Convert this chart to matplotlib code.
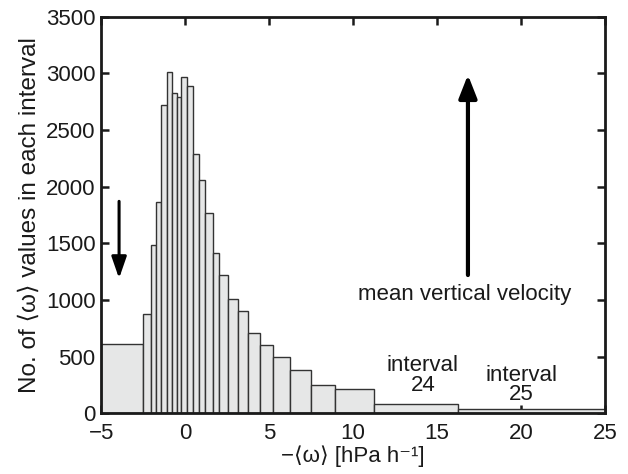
import numpy as np
import matplotlib
matplotlib.use("Agg")
import matplotlib.pyplot as plt

plt.rcParams["font.family"] = ["Liberation Sans", "DejaVu Sans"]

# interval edges of -<omega> [hPa/h] (25 intervals)
edges = [-5.0, -2.48, -2.04, -1.73, -1.41, -1.09, -0.77, -0.49, -0.22, 0.10,
         0.46, 0.82, 1.21, 1.65, 2.05, 2.58, 3.13, 3.75, 4.48, 5.26,
         6.24, 7.50, 8.94, 11.28, 16.27, 25.0]
# number of values in each interval
counts = [610, 874, 1483, 1862, 2721, 3010, 2824, 2789, 2968, 2891,
          2286, 2059, 1765, 1412, 1223, 1006, 900, 706, 600, 494,
          385, 252, 212, 82, 35]

xticks = [-5, 0, 5, 10, 15, 20, 25]
yticks = list(range(0, 3501, 500))

FS = 16
INK = "#1a1a1a"
fig = plt.figure(figsize=(6.28, 4.74), dpi=100)
ax = fig.add_axes([0.161, 0.128, 0.802, 0.837])

left = np.array(edges[:-1])
widths = np.diff(edges)
ax.bar(left, counts, width=widths, align="edge", color="#e6e7e7",
       edgecolor="#333333", linewidth=1.0, zorder=2)

ax.set_xlim(-5, 25)
ax.set_ylim(0, 3500)
ax.set_xticks(xticks)
ax.set_yticks(yticks)
ax.set_xticklabels([str(t).replace("-", "\u2212") for t in xticks])
ax.tick_params(direction="in", length=6, width=1.8, top=True, right=True,
               labelsize=FS, colors=INK)
ax.tick_params(axis="x", pad=7)
ax.tick_params(axis="y", pad=4)
for s in ax.spines.values():
    s.set_linewidth(2.0)
    s.set_color(INK)
    s.set_zorder(5)

ax.set_xlabel("\u2212\u27e8\u03c9\u27e9 [hPa h\u207b\u00b9]", fontsize=FS,
              labelpad=1, color=INK)
ax.set_ylabel("No. of \u27e8\u03c9\u27e9 values in each interval", fontsize=17.5,
              labelpad=4, color=INK)

# arrows
ax.annotate("", xy=(-3.93, 1190), xytext=(-3.93, 1870),
            arrowprops=dict(arrowstyle="-|>,head_length=1.3,head_width=0.45",
                            lw=2.2, color="black", shrinkA=0, shrinkB=0),
            zorder=6)
ax.annotate("", xy=(16.85, 2986), xytext=(16.85, 1220),
            arrowprops=dict(arrowstyle="-|>,head_length=1.4,head_width=0.55",
                            lw=3.0, color="black", shrinkA=0, shrinkB=0),
            zorder=6)

ax.text(16.65, 1000, "mean vertical velocity", fontsize=FS, ha="center",
        va="baseline", color=INK)
ax.text(14.17, 199, "interval\n24", fontsize=FS, ha="center", va="baseline",
        multialignment="center", linespacing=0.95, color=INK)
ax.text(20.04, 117, "interval\n25", fontsize=FS, ha="center", va="baseline",
        multialignment="center", linespacing=0.88, color=INK)

fig.savefig("out.png", dpi=100)
